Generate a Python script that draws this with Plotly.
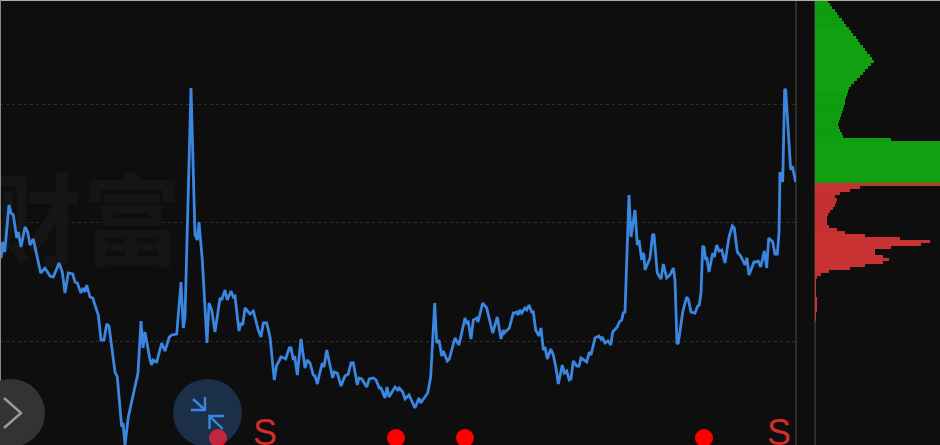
import plotly.graph_objects as go

t = [1,2.7,4.7,9,11,13.3,16.7,18.3,21,25,27.7,30,33.3,36.7,40.7,45,50,53.3,59,62.3,65,68.3,72.7,75,77.3,81,83.3,85,86.7,90,92.7,98.3,101,104,106.7,109,115,117.3,121.7,123,125,128.3,131,138,141,143,145,150,151.7,153,156.7,161.7,165,169.3,171.7,176.7,181,183.3,185,191,195,197.3,199,202.3,207,209,211.7,215,220,221.7,225,227.3,231,233.3,235,239,240.7,242.7,245,250,253.3,258.3,261,263.3,266.7,270,274.3,276.7,278,281,284,285.7,289.3,291,293.3,294.7,297.3,301,305,307.3,310,313.3,315,317.3,319.3,322.3,324,326.7,332.7,334.3,337.3,341,345,348.3,351,353.3,357.3,359,361.7,366.7,369.3,373.3,376,379.3,381,385,387,389,395,397.7,399.3,402.7,405,409,415,419,420.7,425.7,427.7,430.7,433.3,434.7,436.7,439,441.7,443.3,447.3,449.3,455,459,465,466.7,468.3,471,473.3,476.7,478,482.7,486.7,492.7,497.3,501,503.3,504.3,509.3,513.3,515,516.7,518,520,521.7,525,526.7,529,531.7,533.3,535.7,539,541,543.3,545,547.3,550.7,553.3,556,558.3,562.3,564.3,566.7,569.3,571,573.3,576.7,579,581,586.7,589.3,591,595,599,601,602.3,605,608,610.7,612.7,617.3,619.3,621.7,623.3,625,629,631,635,637.3,639,641.7,642.7,644,645,650,652.7,654,657.3,661,663.3,666.7,670,673.3,675,677,678.3,682.7,686.7,688.3,691,695,697.7,699.3,701,702.7,704,705.7,706.7,709,712.7,714.3,716.7,719,721.7,725,729,732.3,734.3,737.3,740.7,745,747,749,754,756,758.3,760.7,764.3,766.7,768.7,772.7,775,777.3,779,780,782.7,784.7,785.7,790.7,792.3,795.7]
v = [187,203,193,240,232,230,207,213,198,218,213,200,206,190,172,177,169,168,182,173,152,172,171,163,162,152,157,153,160,148,147,130,105,105,121,119,73,68,18,22,0,28,40,72,124,97,113,85,80,85,83,102,94,108,110,111,163,117,128,357,210,205,223,185,102,142,135,113,147,145,155,145,154,148,149,114,122,120,137,131,134,115,108,122,122,108,65,80,82,88,87,86,97,97,85,89,70,106,77,85,82,70,69,61,70,82,78,95,67,73,72,59,69,71,82,82,60,67,66,58,66,67,65,57,57,47,58,48,58,55,57,53,46,50,37,47,42,50,52,68,115,142,102,105,89,94,84,86,107,100,127,122,123,106,125,127,123,142,137,112,128,106,115,112,117,132,132,133,130,135,132,137,135,140,133,133,115,109,117,95,98,86,96,90,77,61,80,72,74,65,66,84,79,79,87,83,93,90,107,109,106,108,102,104,100,113,118,123,125,132,133,250,208,235,200,205,185,192,190,175,187,211,210,172,166,181,167,170,177,165,101,102,133,148,146,133,132,139,140,152,199,198,185,188,173,192,188,200,194,195,182,208,219,217,193,189,180,187,170,183,183,184,178,194,177,207,203,191,191,212,273,263,356,355,275,279,263]

grid_levels = [341, 223, 104]

dot_t = [218, 396, 465, 704]
dot_v = [7, 7, 7, 7]
sell_t = [265, 779]
sell_v = [9, 9]
sell_text = ["S", "S"]
mark_t = [82]
mark_v = [212]
mark_text = ["财富"]

green_levels = [443.5 - 3 * i for i in range(61)]
green_vol = [13,15,17,20,22,24,27,29,31,34,36,38,41,43,45,48,50,52,55,57,59,
             56,53,50,48,45,42,39,36,34,33,32,31,30,30,29,28,27,26,25,24,23,
             24,25,27,28,76] + [125] * 14
red_vol = [125,45,35,25,20,22,21,20,18,15,13,12,12,12,14,22,30,50,85,115,106,76,60,60,68,74,68,50,35,14,6,2,
           1,1,1,1,1,1,1.5,1.5,2,2,2,1,1,1]
red_levels = [260.5 - 3 * i for i in range(len(red_vol))]

W, H = 940, 445
BG = "#0e0e0e"
BLUE = "#3a86e0"


def px(x):
    return x / W


def py(y):
    return 1 - y / H


def path(points):
    return "M" + " L".join(f"{px(x):.5f},{py(y):.5f}" for x, y in points)


fig = go.Figure()
fig.add_trace(go.Scatter(x=mark_t, y=mark_v, mode="text", text=mark_text, cliponaxis=False,
                         textfont=dict(family="Noto Sans CJK SC", size=100, color="#151515", weight=700),
                         xaxis="x", yaxis="y"))
fig.add_trace(go.Scatter(x=t, y=v, mode="lines", line=dict(color=BLUE, width=2.8), xaxis="x", yaxis="y"))
fig.add_trace(go.Scatter(x=dot_t, y=dot_v, mode="markers", marker=dict(color="#ff0000", size=18), xaxis="x", yaxis="y"))
fig.add_trace(go.Scatter(x=sell_t, y=sell_v, mode="text", text=sell_text,
                         textfont=dict(color="#d42b2b", size=36, family="Liberation Sans"), xaxis="x", yaxis="y"))
fig.add_trace(go.Bar(y=green_levels, x=green_vol, orientation="h", marker=dict(color="#10a010", line_width=0),
                     xaxis="x2", yaxis="y2"))
fig.add_trace(go.Bar(y=red_levels, x=red_vol, orientation="h", marker=dict(color="#c83232", line_width=0),
                     xaxis="x2", yaxis="y2"))

line_style = lambda c, w: dict(color=c, width=w)
shapes = [
    dict(type="line", xref="paper", yref="paper", x0=px(796), x1=px(796), y0=0, y1=1, line=line_style("#2c2c2c", 2), layer="below"),
    dict(type="line", xref="paper", yref="paper", x0=px(815), x1=px(815), y0=0, y1=1, line=line_style("#3a3a3a", 1.5), layer="below"),
    dict(type="line", xref="paper", yref="paper", x0=0, x1=1, y0=py(0.5), y1=py(0.5), line=line_style("#b0b0b0", 1)),
    dict(type="line", xref="paper", yref="paper", x0=px(0.5), x1=px(0.5), y0=0, y1=1, line=line_style("#8a8a8a", 1)),
    dict(type="circle", xref="paper", yref="paper", x0=px(-23), x1=px(45), y0=py(447), y1=py(379),
         fillcolor="#333333", line_width=0),
    dict(type="path", xref="paper", yref="paper", path=path([(4, 398), (21, 413), (4, 428)]),
         line=line_style("#9a9a9a", 2.5)),
    dict(type="circle", xref="paper", yref="paper", x0=px(173), x1=px(242), y0=py(447), y1=py(379),
         fillcolor="rgba(55,120,195,0.32)", line_width=0),
]
for pts in ([(193, 399), (205, 410)], [(191, 410), (205, 410), (205, 397)],
            [(222.7, 429), (209.5, 416)], [(224, 416), (209.5, 416), (209.5, 429)]):
    shapes.append(dict(type="path", xref="paper", yref="paper", path=path(pts), line=line_style(BLUE, 2.4)))

fig.update_layout(
    width=W, height=H, autosize=False, margin=dict(l=0, r=0, t=0, b=0),
    paper_bgcolor=BG, plot_bgcolor=BG, showlegend=False, barmode="overlay", bargap=0.02,
    xaxis=dict(domain=[0, 796 / W], range=[0, 796], visible=False),
    yaxis=dict(range=[0, 445], showgrid=True, tickvals=grid_levels, gridcolor="#2e2e2e", griddash="dot", gridwidth=1,
               showticklabels=False, zeroline=False, ticks=""),
    xaxis2=dict(domain=[815 / W, 1], range=[0, 125], visible=False),
    yaxis2=dict(range=[0, 445], anchor="x2", visible=False),
    shapes=shapes,
)
fig.write_html("out.html", config=dict(displayModeBar=False),
               post_script="document.body.style.margin='0';document.body.style.background='#0e0e0e';document.documentElement.style.overflow='hidden';")
